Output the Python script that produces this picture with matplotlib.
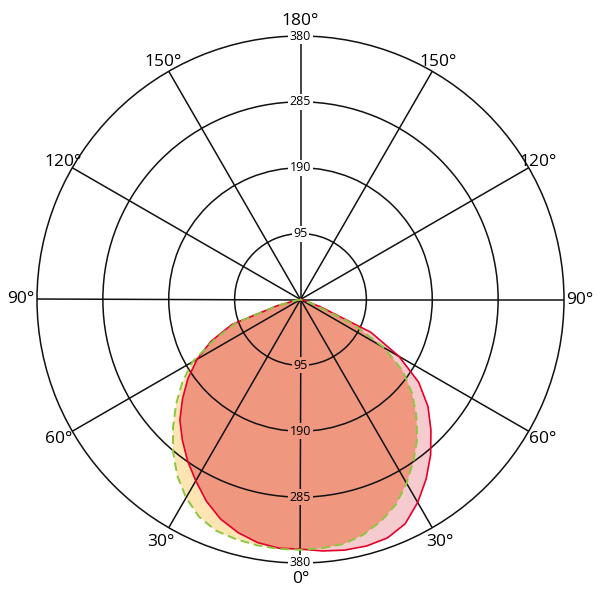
import numpy as np
import matplotlib
matplotlib.use('Agg')
import matplotlib.pyplot as plt

# ---- data (candela values, angle from nadir) ----
angles = [0, 5, 10, 15, 20, 25, 30, 35, 40, 45, 50, 55, 60, 65, 70, 75, 80, 85, 90]
red_right = [360, 364, 367, 368, 366, 357, 338, 316, 292, 266, 240, 208, 164, 112, 30, 5, 0, 0, 0]
red_left = [360, 360, 356, 348, 337, 321, 302, 284, 265, 246, 222, 198, 172, 142, 105, 35, 5, 0, 0]
yellow_right = [360, 360, 358, 351, 340, 326, 306, 284, 262, 236, 210, 180, 140, 84, 20, 3, 0, 0, 0]
yellow_left = [361, 361, 360, 358, 355, 346, 330, 310, 286, 260, 234, 208, 180, 137, 100, 35, 5, 0, 0]

ring_values = [95, 190, 285, 380]
theta_ticks = [0, 30, 60, 90, 120, 150, 180, 210, 240, 270, 300, 330]
theta_labels = ['0°', '30°', '60°', '90°', '120°', '150°', '180°',
                '150°', '120°', '90°', '60°', '30°']

plt.rcParams['font.family'] = ['Open Sans', 'DejaVu Sans']

def full_curve(left, right):
    th = np.concatenate([-np.array(angles[::-1]), np.array(angles[1:])])
    r = np.concatenate([np.array(left[::-1]), np.array(right[1:])])
    return np.deg2rad(th), r

th_r, r_red = full_curve(red_left, red_right)
th_y, r_yel = full_curve(yellow_left, yellow_right)
r_both = np.minimum(r_red, r_yel)

fig = plt.figure(figsize=(6, 6), dpi=100)
ax = fig.add_axes([37/600, 37/600, 527/600, 527/600], projection='polar')
ax.set_theta_zero_location('S')
ax.set_theta_direction(1)
ax.set_ylim(0, 380)

col_yel = '#FDE4B3'
col_red_fill = '#F6CBCF'
col_both = '#F09780'
col_red = '#E4002B'
col_green = '#8DC63F'

ax.fill(th_y, r_yel, color=col_yel, lw=0, zorder=1)
ax.fill(th_r, r_red, color=col_red_fill, lw=0, zorder=1.1)
ax.fill(th_r, r_both, color=col_both, lw=0, zorder=1.2)
ax.plot(th_r, r_red, color=col_red, lw=1.2, zorder=3)
ax.plot(th_y, r_yel, color=col_green, lw=1.4, ls=(0, (4.5, 2.5)), zorder=3.1)

ax.set_axisbelow(False)
ax.set_xticks(np.deg2rad(theta_ticks))
ax.set_xticklabels([])
ax.set_yticks(ring_values[:-1])
ax.set_yticklabels([])
ax.grid(True, color='#111111', lw=1.1)
ax.spines['polar'].set_color('#111111')
ax.spines['polar'].set_linewidth(1.1)
ax.tick_params(length=0)

for t, lab in zip(theta_ticks, theta_labels):
    if t == 180:
        rr = 401
    elif 120 <= t <= 240:
        rr = 396
    else:
        rr = 403
    ax.text(np.deg2rad(t), rr, lab, ha='center', va='center', fontsize=12.5,
            clip_on=False, zorder=5)

for v in ring_values:
    # top (180°) labels on white
    ax.text(np.pi, v, str(v), ha='center', va='center', fontsize=9, zorder=5,
            bbox=dict(boxstyle='square,pad=0.12', fc='white', ec='none'))
    # bottom (0°) labels on the fill colour
    fc = col_both if v <= 285 else 'white'
    ax.text(0, v, str(v), ha='center', va='center', fontsize=9, zorder=5,
            bbox=dict(boxstyle='square,pad=0.12', fc=fc, ec='none'))

fig.savefig('out.png', dpi=100)
